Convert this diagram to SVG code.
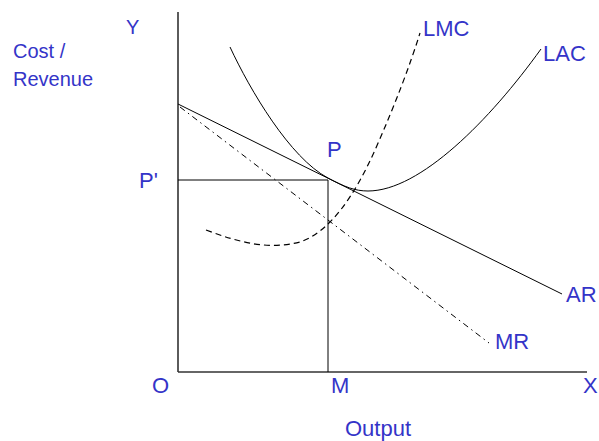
<svg xmlns="http://www.w3.org/2000/svg" width="599" height="441" viewBox="0 0 599 441">
<style>
.lbl{font-family:"Liberation Sans",Arial,sans-serif;font-size:22px;fill:#3434c8}
.sm{font-size:20px}
.axis{stroke:#333;stroke-width:1.6;fill:none}
.ln{stroke:#000;stroke-width:1;fill:none}
.mr{stroke:#000;stroke-width:1;fill:none;stroke-dasharray:6,4,1.5,4}
.lmc{stroke:#000;stroke-width:1.2;fill:none;stroke-dasharray:6,4}
</style>
<rect width="599" height="441" fill="#fff"/>
<g id="connectors">
<path id="y-axis" class="axis" d="M178,12 V372"/>
<path id="x-axis" class="axis" d="M178,372 H587"/>
<path id="p-line" class="ln" d="M178,180 H328"/>
<path id="m-line" class="ln" d="M328,180 V372"/>
<path id="ar" class="ln" d="M178,104 L562,294"/>
<path id="mr" class="mr" d="M180,107 L489,343"/>
<path id="lac" class="ln" d="M230,47 C250,90 290,158 328,178 C345,187 355,191 368,191 C420,191 490,120 541,49"/>
<path id="lmc" class="lmc" d="M206,230 C240,243 270,250 300,242 C330,232 355,195 375,150 C395,105 410,65 420,33"/>
</g>
<g id="label-y"><text class="lbl sm" x="126" y="34">Y</text></g>
<g id="label-cost"><text class="lbl sm" x="13" y="58">Cost /</text><text class="lbl sm" x="13" y="86">Revenue</text></g>
<g id="label-lmc"><text class="lbl" x="423" y="36">LMC</text></g>
<g id="label-lac"><text class="lbl" x="543" y="61">LAC</text></g>
<g id="label-p"><text class="lbl" x="327" y="157">P</text></g>
<g id="label-p2"><text class="lbl" x="139" y="188">P'</text></g>
<g id="label-ar"><text class="lbl" x="566" y="302">AR</text></g>
<g id="label-mr"><text class="lbl" x="495" y="349">MR</text></g>
<g id="label-o"><text class="lbl" x="152" y="393">O</text></g>
<g id="label-m"><text class="lbl" x="331" y="393">M</text></g>
<g id="label-x"><text class="lbl" x="583" y="393">X</text></g>
<g id="label-output"><text class="lbl" x="345" y="436">Output</text></g>
</svg>
